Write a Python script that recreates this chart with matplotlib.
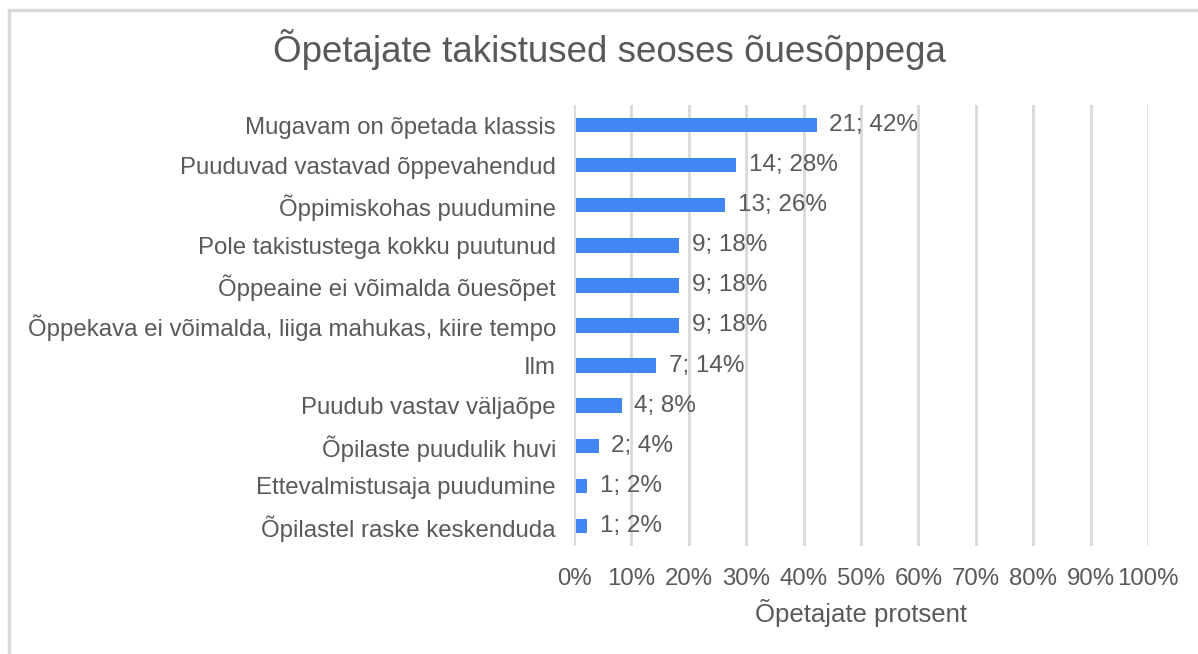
import matplotlib.pyplot as plt
from matplotlib.patches import Rectangle

plt.rcParams['font.family'] = ['Liberation Sans', 'DejaVu Sans']

categories = [
    "Mugavam on õpetada klassis",
    "Puuduvad vastavad õppevahendud",
    "Õppimiskohas puudumine",
    "Pole takistustega kokku puutunud",
    "Õppeaine ei võimalda õuesõpet",
    "Õppekava ei võimalda, liiga mahukas, kiire tempo",
    "Ilm",
    "Puudub vastav väljaõpe",
    "Õpilaste puudulik huvi",
    "Ettevalmistusaja puudumine",
    "Õpilastel raske keskenduda",
]
counts = [21, 14, 13, 9, 9, 9, 7, 4, 2, 1, 1]
percents = [42, 28, 26, 18, 18, 18, 14, 8, 4, 2, 2]
xticks = list(range(0, 101, 10))

text_col = "#595959"
bar_col = "#4285F4"
grid_col = "#d9d9d9"

fig = plt.figure(figsize=(11.98, 6.54), dpi=100)

# chart frame (cropped on right/bottom)
fig.patches.append(Rectangle((8.5 / 1198, -0.05), 1.2, 1 - 9.5 / 654 + 0.05,
                             transform=fig.transFigure, fill=False,
                             edgecolor=grid_col, linewidth=2.5))

ax = fig.add_axes([574 / 1198, 1 - 546 / 654, 574 / 1198, 441 / 654])

y = list(range(len(categories)))
ax.barh(y, percents, height=0.36, color=bar_col, zorder=3, left=0.3)
for yi, c, p in zip(y, counts, percents):
    ax.text(p + 2.5, yi, f"{c}; {p}%", va="center", ha="left",
            fontsize=17.5, color=text_col)

ax.set_xlim(0, 100)
ax.set_ylim(len(categories) - 0.5, -0.5)
ax.set_yticks(y)
ax.set_yticklabels(categories, fontsize=17.3, color=text_col)
ax.set_xticks(xticks)
ax.set_xticklabels([f"{t}%" for t in xticks], fontsize=17.3, color=text_col)
ax.tick_params(axis="both", length=0)
ax.tick_params(axis="y", pad=13)
ax.tick_params(axis="x", pad=16)
ax.grid(axis="x", color=grid_col, linewidth=2, zorder=0)
for s in ax.spines.values():
    s.set_visible(False)

ax.set_xlabel("Õpetajate protsent", fontsize=18.5, color=text_col, labelpad=6)

fig.text(609 / 1198, 1 - 50 / 654, "Õpetajate takistused seoses õuesõppega",
         ha="center", va="center", fontsize=26.5, color=text_col)

fig.savefig("out.png", dpi=100)
